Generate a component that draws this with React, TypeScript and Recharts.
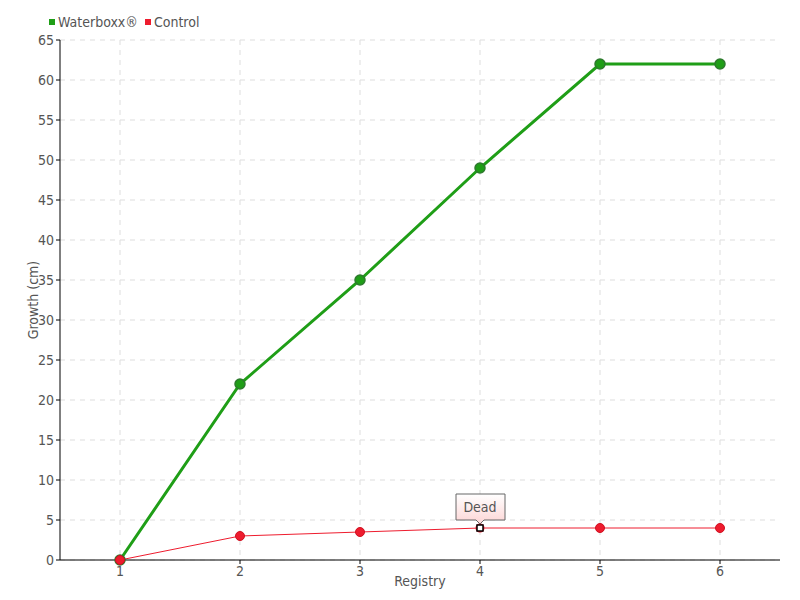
import { LineChart, Line, XAxis, YAxis, CartesianGrid } from 'recharts';

const registry = ['1', '2', '3', '4', '5', '6'];
const waterboxx = [0, 22, 35, 49, 62, 62];
const control = [0, 3, 3.5, 4, 4, 4];
const yTicks = [0, 5, 10, 15, 20, 25, 30, 35, 40, 45, 50, 55, 60, 65];
const deadIndex = 3;
const deadLabel = 'Dead';

const GREEN = '#1f9e17';
const RED = '#ee1c2e';
const FONT = '"DejaVu Sans Condensed", "Liberation Sans Narrow", sans-serif';
const X_PAD = 60;

const data = registry.map((r, i) => ({ registry: r, waterboxx: waterboxx[i], control: control[i] }));

const LegendBox = () => (
  <div
    style={{
      position: 'absolute',
      left: 49,
      top: 13,
      display: 'flex',
      alignItems: 'center',
      fontFamily: FONT,
      fontSize: 14,
      color: '#555',
      lineHeight: '18px',
    }}
  >
    <span style={{ width: 6, height: 6, background: GREEN, display: 'inline-block', marginRight: 3 }} />
    <span style={{ marginRight: 7 }}>Waterboxx®</span>
    <span style={{ width: 6, height: 6, background: RED, display: 'inline-block', marginRight: 3 }} />
    <span>Control</span>
  </div>
);

const ControlDot = (props: any) => {
  const { cx, cy, index } = props;
  if (cx == null || cy == null) return null;
  if (index === deadIndex) {
    return (
      <g key={`dot-${index}`}>
        <circle cx={cx} cy={cy} r={4.5} fill={RED} />
        <rect x={cx - 3} y={cy - 3} width={6} height={6} fill="#fff" stroke="#000" strokeWidth={1.5} />
        <path
          d={`M${cx - 24},${cy - 34} H${cx + 25} V${cy - 8} H${cx + 4} L${cx},${cy - 4} L${cx - 4},${cy - 8} H${cx - 24} Z`}
          fill="url(#deadGrad)"
          stroke="#666"
          strokeWidth={1}
        />
        <text x={cx} y={cy - 16} textAnchor="middle" fontFamily={FONT} fontSize={14} fill="#555">
          {deadLabel}
        </text>
      </g>
    );
  }
  return <circle key={`dot-${index}`} cx={cx} cy={cy} r={4.5} fill={RED} stroke="#d01020" strokeWidth={1} />;
};

// vertical grid only at the category ticks, none on the plot edges
const verticalAtTicks = (args: any) => {
  const off = args?.offset;
  if (!off) return [];
  const step = (off.width - 2 * X_PAD) / (registry.length - 1);
  return registry.map((_, i) => off.left + X_PAD + i * step);
};

export default function App() {
  return (
    <div style={{ position: 'absolute', left: 0, top: 0, width: 800, height: 600, background: '#fff' }}>
      <LineChart width={800} height={600} data={data} margin={{ top: 40, right: 20, left: 0, bottom: 0 }}>
        <defs>
          <linearGradient id="deadGrad" x1="0" y1="0" x2="0" y2="1">
            <stop offset="0%" stopColor="#ffffff" />
            <stop offset="100%" stopColor="#fdd5d5" />
          </linearGradient>
        </defs>
        <CartesianGrid stroke="#dddddd" strokeDasharray="5 5" verticalCoordinatesGenerator={verticalAtTicks} />
        <XAxis
          dataKey="registry"
          height={40}
          padding={{ left: X_PAD, right: X_PAD }}
          stroke="#000"
          tickSize={4}
          tick={{ fill: '#555', fontSize: 14, fontFamily: FONT }}
          label={{ value: 'Registry', position: 'insideBottom', offset: 14, fill: '#555', fontSize: 14, fontFamily: FONT }}
        />
        <YAxis
          width={60}
          domain={[0, 65]}
          ticks={yTicks}
          interval={0}
          stroke="#000"
          tickSize={4}
          tick={{ fill: '#555', fontSize: 14, fontFamily: FONT }}
          label={{ value: 'Growth (cm)', angle: -90, position: 'insideLeft', offset: 33, fill: '#555', fontSize: 14, fontFamily: FONT, style: { textAnchor: 'middle' } }}
        />
        <Line
          type="linear"
          dataKey="waterboxx"
          name="Waterboxx®"
          stroke={GREEN}
          strokeWidth={3}
          dot={{ r: 5, fill: GREEN, stroke: '#2d7a2d', strokeWidth: 1.5 }}
          activeDot={false}
          isAnimationActive={false}
        />
        <Line
          type="linear"
          dataKey="control"
          name="Control"
          stroke={RED}
          strokeWidth={1}
          dot={<ControlDot />}
          activeDot={false}
          isAnimationActive={false}
        />
      </LineChart>
      <LegendBox />
    </div>
  );
}
